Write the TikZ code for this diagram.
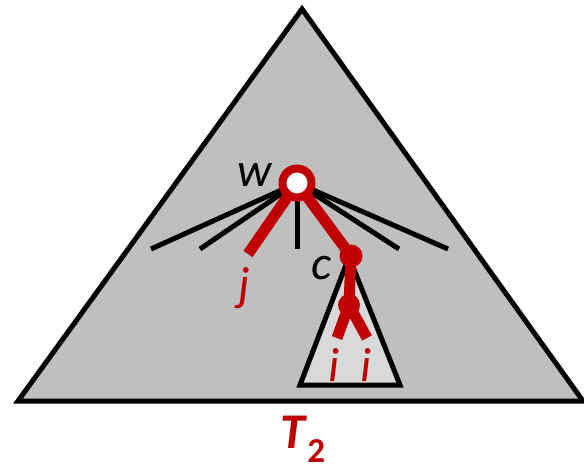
\documentclass[tikz,border=0pt]{standalone}
\usepackage{fontspec}
\setmainfont{Carlito}
\usetikzlibrary{positioning}
\definecolor{treegray}{HTML}{BFBFBF}
\definecolor{subgray}{HTML}{D9D9D9}
\definecolor{pathred}{HTML}{C00000}

\begin{document}
\begin{tikzpicture}[x=1pt, y=-1pt,
  treeline/.style={draw=black, line width=5pt},
  fanline/.style={black, line width=5pt},
  redpath/.style={pathred, line width=11pt, line join=round},
  lab/.style={inner sep=0pt, font=\fontsize{48}{54}\selectfont\itshape}]

\useasboundingbox (0,0) rectangle (584,471);

% Big tree T_2
\filldraw[treeline, fill=treegray] (302,9) -- (18,401) -- (583,401) -- cycle;

% Key points
\coordinate (w) at (297,183);
\coordinate (jend) at (248,254);
\coordinate (c) at (351,256);
\coordinate (c2) at (349,305);
\coordinate (i1) at (337,338);
\coordinate (i2) at (367,338);

% Black children of w
\foreach \x/\n in {151/a, 200/b, 297/m, 399/d, 448/e} {
  \coordinate (l\n) at (\x,249);
  \draw[fanline] (w) -- (l\n);
}

% Subtree below c
\filldraw[treeline, fill=subgray] (349,257) -- (300,385) -- (400,385) -- cycle;

% Red paths
\draw[redpath] (w) -- (jend);
\draw[redpath] (w) -- (c) -- (c2);
\draw[redpath] (c2) -- (i1);
\draw[redpath] (c2) -- (i2);
\fill[pathred] (c) circle (11.5);
\fill[pathred] (c2) circle (11);

% Node w
\draw[pathred, line width=8pt, fill=white] (w) circle (14.5);

% Labels
\node[lab] (wlab) at (255,175) {w};
\node[lab] (clab) at (321,268) {c};
\node[lab, text=pathred] (jlab) at (244,288) {j};
\node[lab, text=pathred] (ilab1) at (334,365) {i};
\node[lab, text=pathred] (ilab2) at (366,365) {i};
\node[inner sep=0pt, text=pathred, font=\fontsize{50}{54}\selectfont\bfseries] (tlab) at (303,439) {\textit{T}\textsubscript{2}};

\end{tikzpicture}
\end{document}
